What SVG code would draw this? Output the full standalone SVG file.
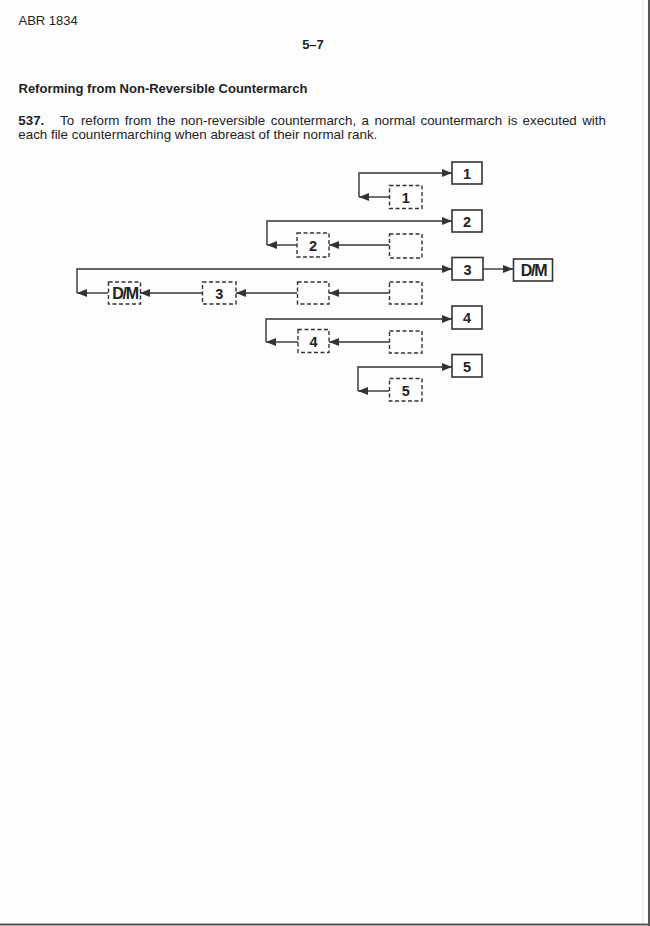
<svg xmlns="http://www.w3.org/2000/svg" width="650" height="926" viewBox="0 0 650 926">
<style>
.pg{font-family:"Liberation Sans",Arial,sans-serif;font-size:13.35px;fill:#222}
.b{font-weight:bold}
.solid{fill:#fff;stroke:#333;stroke-width:1.6}
.dash{fill:none;stroke:#333;stroke-width:1.4;stroke-dasharray:4 2.5}
.lbl{font-family:"Liberation Sans",Arial,sans-serif;font-weight:bold;font-size:14.5px;fill:#222;text-anchor:middle}
.dm{font-size:16px;letter-spacing:-1.2px}
.con{fill:none;stroke:#333;stroke-width:1.4}
</style>
<defs>
<marker id="ah" markerUnits="userSpaceOnUse" markerWidth="11" markerHeight="8" refX="10" refY="4" orient="auto">
<path d="M0,0 L10,4 L0,8 z" fill="#333"/>
</marker>
</defs>
<rect x="0" y="0" width="650" height="926" fill="#fdfdfe"/>
<line x1="643" y1="0" x2="643" y2="923" stroke="#e2e2e2" stroke-width="1"/>
<line x1="649" y1="0" x2="649" y2="926" stroke="#555" stroke-width="2"/>
<line x1="0" y1="924.5" x2="650" y2="924.5" stroke="#555" stroke-width="2"/>

<text class="pg" x="18.5" y="24.5" style="font-size:13px">ABR 1834</text>
<text class="pg b" x="313" y="48.5" text-anchor="middle" style="font-size:13px">5–7</text>
<text class="pg b" x="18.5" y="92.5" style="font-size:13px">Reforming from Non-Reversible Countermarch</text>
<text class="pg" y="124.5"><tspan class="b" x="18.3">537.</tspan><tspan x="60">To</tspan><tspan x="80.9">reform</tspan><tspan x="124.8">from</tspan><tspan x="156.8">the</tspan><tspan x="180.7">non-reversible</tspan><tspan x="270.8">countermarch,</tspan><tspan x="361.6">a</tspan><tspan x="374.4">normal</tspan><tspan x="420.5">countermarch</tspan><tspan x="507.7">is</tspan><tspan x="522.6">executed</tspan><tspan x="582.2">with</tspan></text>
<text class="pg" x="18.3" y="139">each file countermarching when abreast of their normal rank.</text>

<g id="connectors">
<path class="con" d="M389,197 H359" marker-end="url(#ah)"/>
<path class="con" d="M359,197 V173 H452" marker-end="url(#ah)"/>
<path class="con" d="M389,245 H329" marker-end="url(#ah)"/>
<path class="con" d="M297,245 H267" marker-end="url(#ah)"/>
<path class="con" d="M267,245 V221 H452" marker-end="url(#ah)"/>
<path class="con" d="M77,293 V269 H452" marker-end="url(#ah)"/>
<path class="con" d="M483,269 H513" marker-end="url(#ah)"/>
<path class="con" d="M389,293 H329" marker-end="url(#ah)"/>
<path class="con" d="M297,293 H236" marker-end="url(#ah)"/>
<path class="con" d="M202,293 H140" marker-end="url(#ah)"/>
<path class="con" d="M108,293 H77" marker-end="url(#ah)"/>
<path class="con" d="M389,342 H329" marker-end="url(#ah)"/>
<path class="con" d="M298,342 H266" marker-end="url(#ah)"/>
<path class="con" d="M266,342 V319 H452" marker-end="url(#ah)"/>
<path class="con" d="M389,391 H358" marker-end="url(#ah)"/>
<path class="con" d="M358,391 V367 H452" marker-end="url(#ah)"/>
</g>

<g id="n1"><rect class="solid" x="452" y="162" width="30" height="22"/><text class="lbl" x="467" y="178.5">1</text></g>
<g id="n1old"><rect class="dash" x="389.5" y="185.5" width="32.5" height="23"/><text class="lbl" x="405.7" y="202.5">1</text></g>

<g id="n2"><rect class="solid" x="452" y="210" width="30" height="22"/><text class="lbl" x="467" y="226.5">2</text></g>
<g id="n2old"><rect class="dash" x="297" y="233" width="32" height="24"/><text class="lbl" x="313" y="250.5">2</text></g>
<g id="e2"><rect class="dash" x="389.5" y="234" width="32.5" height="24"/></g>

<g id="n3"><rect class="solid" x="452" y="257.5" width="31" height="22.5"/><text class="lbl" x="467.5" y="274.5">3</text></g>
<g id="dm"><rect class="solid" x="513.5" y="259" width="39" height="22"/><text class="lbl dm" x="533.5" y="275.5">D/M</text></g>
<g id="dmold"><rect class="dash" x="108.5" y="282" width="32" height="22"/><text class="lbl dm" x="125" y="298.5">D/M</text></g>
<g id="n3old"><rect class="dash" x="202.5" y="282" width="33.5" height="22"/><text class="lbl" x="219.2" y="298.5">3</text></g>
<g id="e3a"><rect class="dash" x="297.5" y="282" width="31.5" height="22"/></g>
<g id="e3b"><rect class="dash" x="389.5" y="282" width="32.5" height="22"/></g>

<g id="n4"><rect class="solid" x="452" y="306" width="30" height="23"/><text class="lbl" x="467" y="323">4</text></g>
<g id="n4old"><rect class="dash" x="298" y="329.5" width="31" height="23"/><text class="lbl" x="313.5" y="346.5">4</text></g>
<g id="e4"><rect class="dash" x="389.5" y="331" width="32.5" height="22"/></g>

<g id="n5"><rect class="solid" x="452" y="354.5" width="30" height="22.5"/><text class="lbl" x="467" y="371.5">5</text></g>
<g id="n5old"><rect class="dash" x="389.5" y="378.5" width="32.5" height="22.5"/><text class="lbl" x="405.7" y="395.5">5</text></g>
</svg>
